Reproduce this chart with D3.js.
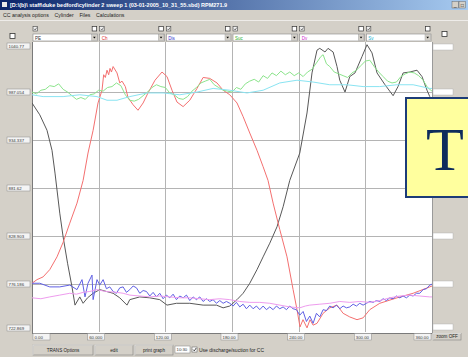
<!DOCTYPE html>
<html>
<head>
<meta charset="utf-8">
<script src="https://cdn.jsdelivr.net/npm/d3@7"></script>
<style>
  body { margin: 0; background: #d4d0c8; }
  svg { display: block; font-family: "Liberation Sans", Arial, sans-serif; }
</style>
</head>
<body>
<div id="chart"></div>
<script>
var chartWidth = 468;
var chartHeight = 357;

/********
 * Data *
 ********/

// crank angle tick labels (x) and pressure tick labels (y)
var xTicks = [0, 60, 120, 180, 240, 300, 360];
var xTickLabels = ["0.00", "60.000", "120.00", "180.00", "240.00", "300.00", "360.00"];
var yTicks = [723.469, 776.186, 828.903, 881.62, 934.337, 987.054, 1039.771];
var yTickLabels = ["722.869", "776.186", "828.903", "881.62", "934.337", "987.054", "1040.77"];

var channelNames = ["PE", "Ch", "Dis", "Suc", "Dv", "Sv"];
var channelColors = ["#333333", "#e03030", "#3030d0", "#30b030", "#d030d0", "#20b0d0"];

// [crank angle, value]
var blackTrace = [[0,975],[7,962],[13.5,945],[18,923],[20.7,898],[25,854],[28,828],[32,799],[36,773],[38.7,753],
  [43,762],[46,755],[50,761],[55,766],[61,770],[67,768],[73,766],[79,761],[85.5,753],[88,759],[97,762],
  [106,761],[115,759],[121.5,753],[130,755],[142,755],[154,753],[166,753],[172,750],[178,752],[184.5,759],
  [190,766],[196,777],[202.5,792],[208,806],[214,821],[220.5,839],[226,861],[232,890],[241,920],[247.5,964],
  [252,1008],[256.5,1033],[259,1035],[263.7,1031],[266.4,1035],[271,1031],[274.5,1015],[277,1000],[281.7,987],
  [286,1004],[290.7,1008],[297,1026],[301.5,1039],[306,1030],[310.5,1008],[317.7,995],[325,983],[329.4,993],
  [334,1008],[340,1009],[346.5,1011],[351,1004],[355.5,989],[358,982],[360,978]];

var redTrace = [[0,777],[4.5,781],[10,784],[16,792],[22.5,806],[28,822],[34,843],[40.5,865],[46,890],[50.4,920],
  [55,945],[59.4,975],[63,989],[64.5,1006],[66,1003],[67.5,1011],[69,1006],[70.2,1013],[71.5,1009],[73,1015],
  [76.5,1008],[79,997],[81,999],[84,993],[86.4,981],[91,973],[95.4,967],[100,975],[104.4,986],[110.7,1000],
  [117,1009],[121.5,1004],[126,989],[130.5,976],[136,971],[142,978],[148.5,991],[154,1003],[160,1002],
  [166.5,997],[172,989],[178,984],[184.5,975],[190,960],[196,942],[202.5,923],[208,905],[212.4,890],[217,865],
  [223,836],[229.5,806],[235,770],[238.5,748],[241.2,729],[243.9,737],[247.5,728],[250.2,737],[253,731],
  [256.5,733],[262,744],[268,750],[274.5,753],[280,744],[286,740],[292.5,737],[298,739],[304,748],[313,755],
  [328.5,761],[343,766],[358,773],[360,774]];

var greenTrace = [[0,987],[4,985],[8,989],[12,990],[16,994],[20,993],[24,996],[28,990],[32,987],[36,983],
  [40,979],[44,981],[48,979],[52,984],[56,985],[60,989],[64,988],[68,992],[72,993],[76,997],[80,994],[84,984],
  [88,978],[92,977],[96,979],[100,983],[104,987],[108,992],[112,995],[116,993],[120,992],[124,986],[128,984],
  [132,980],[136,979],[140,982],[144,988],[148,992],[152,997],[156,999],[160,1001],[164,995],[168,992],
  [172,989],[176,988],[180,987],[184,992],[188,990],[192,996],[196,999],[200,1001],[204,998],[208,1005],
  [212,1002],[216,1008],[220,1005],[224,1010],[228,1006],[232,1009],[236,1005],[240,1008],[244,1004],
  [248,1009],[252,1012],[256,1019],[260,1026],[262,1028],[265,1018],[268,1015],[272,1009],[276,1007],
  [280,1005],[284,1003],[288,1008],[292,1011],[296,1016],[300,1021],[304,1022],[308,1015],[312,1009],
  [316,1004],[320,999],[324,997],[328,998],[332,1004],[336,1007],[340,1009],[344,1008],[348,1005],
  [352,1000],[356,992],[360,988]];

var cyanTrace = [[0,984],[10,982],[28,982],[43,984],[58.5,982],[67.5,978],[76.5,978],[88,982],[103.5,986],
  [118,986],[133,984],[148.5,987],[163,991],[178,989],[193.5,986],[208,989],[223,997],[238.5,1000],
  [253,998],[268,995],[283.5,995],[298,993],[313,993],[328.5,995],[343,995],[358,991],[360,991]];

var blueTrace = [[0,777],[7,777],[16,773],[25,773],[34,775],[40.5,770],[45,781],[47.7,762],[50.4,777],[54,786],
  [55,759],[58.5,781],[61,775],[64,781],[67,771],[70,773],[73,768],[76,766],[79,772],[82,773],[85,767],
  [88,770],[91,774],[94,772],[97,766],[100,769],[103,768],[106,763],[109,767],[112,762],[115,766],[118,760],
  [121,764],[124,761],[127,765],[130,759],[133,763],[136,761],[139,764],[142,758],[145,762],[148,759],
  [151,762],[154,757],[157,760],[160,757],[163,759],[166,755],[169,758],[172,755],[175,757],[178,755],
  [181,752],[184,756],[187,751],[190,754],[193,749],[196,753],[199,749],[202,752],[205,748],[208,752],
  [211,748],[214,751],[217,748],[220,752],[223,749],[226,751],[229,748],[232,752],[235,749],[238,748],
  [241,742],[244,746],[247,735],[250,741],[253,733],[256,744],[259,740],[262,748],[265,747],[268,752],
  [271,750],[274,753],[277,749],[280,752],[283,750],[286,751],[289,754],[292,752],[295,755],[298,753],
  [301,755],[304,757],[307,756],[310,758],[313,757],[316,760],[319,758],[322,761],[325,760],[328,763],
  [331,761],[334,763],[337,761],[340,764],[343,763],[346,766],[349,766],[352,770],[355,771],[358,775],[360,776]];

var magentaTrace = [[0,761],[8,760],[16,762],[25,764],[34,766],[40,765],[46,767],[52,768],[58.5,770],[66,768],
  [76.5,767],[82,766],[88,764],[97,763],[106,762],[115,763],[124,762],[133,761],[142,761],[151,760],[160,759],
  [169,760],[178,759],[187,757],[196,756],[205,756],[214,755],[223,753],[232,751],[241,750],[246,752],
  [250,753],[259,754],[268,755],[277,757],[286,756],[295,757],[304,756],[313,758],[322,761],[331,763],
  [340,764],[349,763],[358,762],[360,762]];

var traces = [blackTrace, redTrace, blueTrace, greenTrace, magentaTrace, cyanTrace];
var traceColors = ["#585858", "#f47070", "#6060e4", "#8ce48c", "#ee9cee", "#8ae4f2"];

/**********
 * Scales *
 **********/

var plotLeft = 32, plotRight = 432, plotTop = 44, plotBottom = 332;

var x = d3.scaleLinear()
    .domain([0, 360])
    .range([plotLeft, plotRight]);

var y = d3.scaleLinear()
    .domain([yTicks[0], yTicks[yTicks.length - 1]])
    .range([plotBottom, plotTop]);

/**************
 * Make Chart *
 **************/

var svg = d3.select("#chart").append("svg")
    .attr("width", chartWidth)
    .attr("height", chartHeight);

svg.append("rect")
    .attr("width", chartWidth)
    .attr("height", chartHeight)
    .attr("fill", "#d4d0c8");

// title bar
var grad = svg.append("defs").append("linearGradient").attr("id", "titleGrad");
grad.append("stop").attr("offset", "0%").attr("stop-color", "#0a246a");
grad.append("stop").attr("offset", "100%").attr("stop-color", "#a6caf0");

svg.append("rect")
    .attr("x", 0).attr("y", 0)
    .attr("width", chartWidth).attr("height", 10)
    .attr("fill", "url(#titleGrad)");

svg.append("rect")
    .attr("x", 2).attr("y", 2).attr("width", 5).attr("height", 5)
    .attr("fill", "#e8e8e8");

svg.append("text")
    .attr("x", 10).attr("y", 7.3)
    .attr("font-size", "5.5px")
    .attr("font-weight", "bold")
    .attr("fill", "#ffffff")
    .text("[D:\\(b)\\ staff\\duke bedford\\cylinder 2 sweep 1 (03-01-2005_10_31_55.sbd) RPM271.9");

[452, 459].forEach(function(bx, i) {
    svg.append("rect")
        .attr("x", bx).attr("y", 1.5).attr("width", 6.5).attr("height", 6.5)
        .attr("fill", "#d4d0c8").attr("stroke", "#555").attr("stroke-width", 0.4);
    svg.append("text")
        .attr("x", bx + 3.2).attr("y", 6.8)
        .attr("text-anchor", "middle")
        .attr("font-size", "5px")
        .attr("fill", "#000")
        .text(i == 0 ? "_" : "□");
});

// menu
svg.append("text")
    .attr("x", 3).attr("y", 16.5)
    .attr("font-size", "5.2px")
    .attr("fill", "#222")
    .attr("xml:space", "preserve")
    .text("CC analysis options    Cylinder    Files    Calculations");

svg.append("line")
    .attr("x1", 0).attr("x2", chartWidth).attr("y1", 20.5).attr("y2", 20.5)
    .attr("stroke", "#ffffff").attr("stroke-width", 0.6);

// channel selectors
var slotW = (plotRight - plotLeft) / channelNames.length;

channelNames.forEach(function(name, i) {
    var x0 = plotLeft + i * slotW;

    // small icons above each selector
    svg.append("rect")
        .attr("x", x0 + 1).attr("y", 26.5).attr("width", 4.5).attr("height", 4.5)
        .attr("fill", "#f0f0f0").attr("stroke", "#444").attr("stroke-width", 0.6);
    svg.append("path")
        .attr("d", "M" + (x0 + 2) + ",28.8 L" + (x0 + 3.2) + ",30 L" + (x0 + 4.8) + ",27.5")
        .attr("fill", "none").attr("stroke", "#333").attr("stroke-width", 0.6);
    svg.append("rect")
        .attr("x", x0 + slotW - 6.5).attr("y", 26.5).attr("width", 4.5).attr("height", 4.5)
        .attr("fill", "#ffffff").attr("stroke", "#333").attr("stroke-width", 0.7);

    // dropdown
    svg.append("rect")
        .attr("x", x0 + 1).attr("y", 34).attr("width", slotW - 2).attr("height", 7)
        .attr("fill", "#ffffff").attr("stroke", "#888").attr("stroke-width", 0.6);
    svg.append("rect")
        .attr("x", x0 + slotW - 7).attr("y", 34.5).attr("width", 5.5).attr("height", 6)
        .attr("fill", "#d4d0c8").attr("stroke", "#999").attr("stroke-width", 0.4);
    svg.append("path")
        .attr("d", "M" + (x0 + slotW - 5.6) + ",36.8 L" + (x0 + slotW - 3) + ",36.8 L" + (x0 + slotW - 4.3) + ",38.5 Z")
        .attr("fill", "#000");
    svg.append("text")
        .attr("x", x0 + 3).attr("y", 39.5)
        .attr("font-size", "4.5px")
        .attr("fill", channelColors[i])
        .text(name);
});

// left checkbox and right-side checkbox
svg.append("rect")
    .attr("x", 10).attr("y", 33.5).attr("width", 5).attr("height", 5)
    .attr("fill", "#ffffff").attr("stroke", "#333").attr("stroke-width", 0.8);
svg.append("rect")
    .attr("x", 442).attr("y", 31.5).attr("width", 5).attr("height", 5)
    .attr("fill", "#ffffff").attr("stroke", "#333").attr("stroke-width", 0.8);

// plot area
svg.append("rect")
    .attr("x", plotLeft).attr("y", 42)
    .attr("width", plotRight - plotLeft).attr("height", plotBottom - 42 + 1)
    .attr("fill", "#ffffff");

/********
 * Axes *
 ********/

var xGrid = svg.append("g")
    .attr("class", "grid")
    .attr("transform", "translate(0," + plotBottom + ")")
    .call(d3.axisBottom(x).tickValues(xTicks.slice(1, -1)).tickSize(-(plotBottom - 42)).tickFormat(""));

var yGrid = svg.append("g")
    .attr("class", "grid")
    .attr("transform", "translate(" + plotLeft + ",0)")
    .call(d3.axisLeft(y).tickValues(yTicks.slice(1, -1)).tickSize(-(plotRight - plotLeft)).tickFormat(""));

svg.selectAll(".grid .domain").remove();
svg.selectAll(".grid line")
    .attr("stroke", "#b4b4b4")
    .attr("stroke-width", 1)
    .attr("shape-rendering", "crispEdges");

// frame edges
svg.append("line")
    .attr("x1", plotLeft).attr("x2", plotLeft).attr("y1", 42).attr("y2", plotBottom + 1)
    .attr("stroke", "#7a7a7a").attr("shape-rendering", "crispEdges");
svg.append("line")
    .attr("x1", plotLeft).attr("x2", plotRight).attr("y1", plotBottom + 1).attr("y2", plotBottom + 1)
    .attr("stroke", "#7a7a7a").attr("shape-rendering", "crispEdges");
svg.append("line")
    .attr("x1", plotRight).attr("x2", plotRight).attr("y1", 42).attr("y2", plotBottom + 1)
    .attr("stroke", "#9a9a9a").attr("shape-rendering", "crispEdges");

/**********
 * Traces *
 **********/

svg.append("clipPath").attr("id", "plotClip")
    .append("rect")
    .attr("x", plotLeft).attr("y", 42)
    .attr("width", plotRight - plotLeft).attr("height", plotBottom - 42 + 1);

var line = d3.line()
    .x(function(d) { return x(d[0]); })
    .y(function(d) { return y(d[1]); });

svg.append("g")
    .attr("clip-path", "url(#plotClip)")
    .selectAll("path")
    .data(traces)
    .enter().append("path")
    .attr("d", line)
    .attr("fill", "none")
    .attr("stroke", function(d, i) { return traceColors[i]; })
    .attr("stroke-width", 1)
    .attr("stroke-linejoin", "round");

/**************
 * Tick boxes *
 **************/

var yBox = function(v) { return Math.max(43, Math.min(325, y(v) - 3)); };

var leftBoxes = svg.selectAll(".ylab")
    .data(yTicks)
    .enter().append("g")
    .attr("class", "ylab");

leftBoxes.append("rect")
    .attr("x", 7).attr("y", yBox)
    .attr("width", 23).attr("height", 6)
    .attr("fill", "#f4f4f4").attr("stroke", "#8a8a8a").attr("stroke-width", 0.5);

leftBoxes.append("text")
    .attr("x", 8.5).attr("y", function(d) { return yBox(d) + 4.6; })
    .attr("font-size", "4.3px")
    .attr("fill", "#333")
    .text(function(d, i) { return yTickLabels[i]; });

svg.selectAll(".yright")
    .data(yTicks)
    .enter().append("rect")
    .attr("class", "yright")
    .attr("x", 433).attr("y", function(d) { return Math.max(44, Math.min(324, y(d) - 3)); })
    .attr("width", 20).attr("height", 6)
    .attr("fill", "#ffffff").attr("stroke", "#aaa").attr("stroke-width", 0.4);

var xBoxX = function(v, i) {
    if (i == 0) return x(v) + 1;
    if (i == xTicks.length - 1) return x(v) - 18;
    return x(v) - 11;
};

var bottomBoxes = svg.selectAll(".xlab")
    .data(xTicks)
    .enter().append("g")
    .attr("class", "xlab");

bottomBoxes.append("rect")
    .attr("x", xBoxX).attr("y", 333.5)
    .attr("width", 17).attr("height", 6.5)
    .attr("fill", "#f4f4f4").attr("stroke", "#8a8a8a").attr("stroke-width", 0.5);

bottomBoxes.append("text")
    .attr("x", function(d, i) { return xBoxX(d, i) + 1.5; })
    .attr("y", 338.6)
    .attr("font-size", "4.3px")
    .attr("fill", "#333")
    .text(function(d, i) { return xTickLabels[i]; });

/***********
 * Buttons *
 ***********/

function button(bx, by, bw, bh, label) {
    svg.append("rect")
        .attr("x", bx).attr("y", by).attr("width", bw).attr("height", bh)
        .attr("fill", "#d4d0c8").attr("stroke", "#808080").attr("stroke-width", 0.6);
    svg.append("path")
        .attr("d", "M" + bx + "," + (by + bh) + " L" + bx + "," + by + " L" + (bx + bw) + "," + by)
        .attr("fill", "none").attr("stroke", "#ffffff").attr("stroke-width", 0.6);
    svg.append("text")
        .attr("x", bx + bw / 2).attr("y", by + bh / 2 + 1.7)
        .attr("text-anchor", "middle")
        .attr("font-size", "4.6px")
        .attr("fill", "#222")
        .text(label);
}

button(433, 333.5, 28, 6.5, "zoom OFF");
button(33, 345, 60, 10, "TRANS Options");
button(95, 345, 38, 10, "edit");
button(135, 345, 38, 10, "print graph");

svg.append("rect")
    .attr("x", 175).attr("y", 346).attr("width", 15).attr("height", 7)
    .attr("fill", "#ffffff").attr("stroke", "#808080").attr("stroke-width", 0.5);
svg.append("text")
    .attr("x", 176.5).attr("y", 351.2)
    .attr("font-size", "4.3px").attr("fill", "#333")
    .text("10:30");
svg.append("rect")
    .attr("x", 192).attr("y", 347).attr("width", 5).attr("height", 5)
    .attr("fill", "#ffffff").attr("stroke", "#555").attr("stroke-width", 0.5);
svg.append("path")
    .attr("d", "M193,349.5 L194.3,350.9 L196.2,348")
    .attr("fill", "none").attr("stroke", "#000").attr("stroke-width", 0.7);
svg.append("text")
    .attr("x", 199).attr("y", 351.5)
    .attr("font-size", "5px").attr("fill", "#222")
    .text("Use discharge/suction for CC");

/***************
 * Slide label *
 ***************/

svg.append("rect")
    .attr("x", 406).attr("y", 98)
    .attr("width", 70).attr("height", 99)
    .attr("fill", "#ffff9e")
    .attr("stroke", "#1c3c78")
    .attr("stroke-width", 2);

svg.append("text")
    .attr("x", 426).attr("y", 170)
    .attr("font-family", "'Liberation Serif', 'DejaVu Serif', serif")
    .attr("font-size", "62px")
    .attr("fill", "#0e2c5c")
    .text("T");
</script>
</body>
</html>
